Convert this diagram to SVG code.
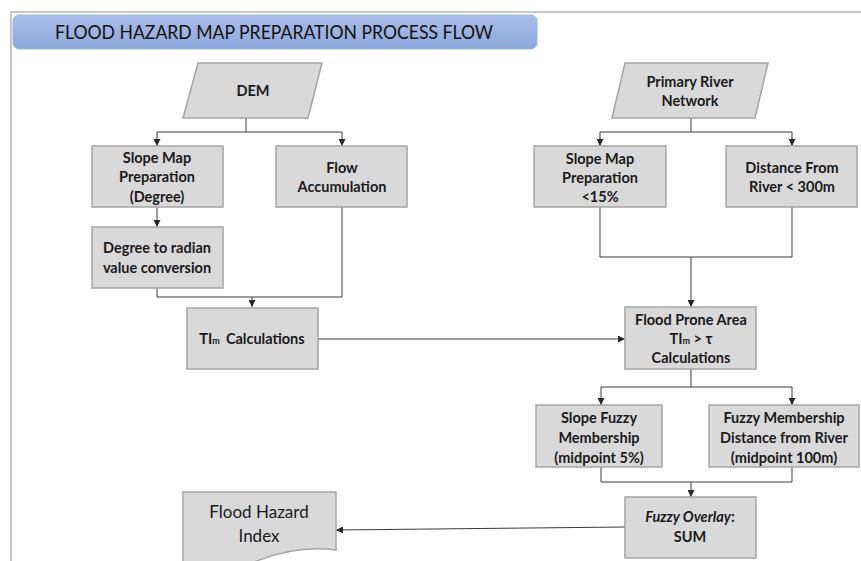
<svg xmlns="http://www.w3.org/2000/svg" width="861" height="561" viewBox="0 0 861 561">
  <defs>
    <linearGradient id="titleFill" x1="0" y1="0" x2="0" y2="1">
      <stop offset="0" stop-color="#aabde9"/>
      <stop offset="1" stop-color="#8ea7dc"/>
    </linearGradient>
    <marker id="arrow" viewBox="0 0 10 10" refX="10" refY="5" markerWidth="7" markerHeight="7" markerUnits="userSpaceOnUse" orient="auto">
      <path d="M0,0 L10,5 L0,10 Z" fill="#262626"/>
    </marker>
  </defs>
  <style>
    .box { fill: #d9d9d9; stroke: #a5a5a5; stroke-width: 1.5; }
    .lbl { font-family: Lato, "Open Sans", "Liberation Sans", sans-serif; font-size: 14.5px; font-weight: bold; fill: #1a1a1a; text-anchor: middle; }
    .big { font-size: 17px; font-weight: normal; }
    .link { fill: none; stroke: #3a3a3a; stroke-width: 1; }
    .frame { fill: none; stroke: #c8c8c8; stroke-width: 2; }
  </style>

  <rect width="861" height="561" fill="#ffffff"/>

  <!-- page frame -->
  <path class="frame" d="M11,561 V12 H861"/>

  <!-- title banner -->
  <g id="title">
    <rect x="13" y="15" width="524" height="34" rx="6" fill="url(#titleFill)" stroke="#9fb3e0" stroke-width="1"/>
    <text x="274" y="39" font-family="Lato, 'Open Sans', 'Liberation Sans', sans-serif" font-size="18.5" fill="#111" text-anchor="middle" textLength="438" lengthAdjust="spacingAndGlyphs">FLOOD HAZARD MAP PREPARATION PROCESS FLOW</text>
  </g>

  <!-- connectors -->
  <g id="connectors">
    <path class="link" d="M246,118 V132 H157 V146" marker-end="url(#arrow)"/>
    <path class="link" d="M246,132 H342 V146" marker-end="url(#arrow)"/>
    <path class="link" d="M157,207 V227" marker-end="url(#arrow)"/>
    <path class="link" d="M157,288 V297 H342 V207"/>
    <path class="link" d="M252,297 V307" marker-end="url(#arrow)"/>

    <path class="link" d="M691,118 V132 H600 V146" marker-end="url(#arrow)"/>
    <path class="link" d="M691,132 H792 V146" marker-end="url(#arrow)"/>
    <path class="link" d="M600,207 V257 H792 V207"/>
    <path class="link" d="M691,257 V307" marker-end="url(#arrow)"/>

    <path class="link" d="M318,339 H625" marker-end="url(#arrow)"/>

    <path class="link" d="M691,369 V387 H601 V405" marker-end="url(#arrow)"/>
    <path class="link" d="M691,387 H792 V405" marker-end="url(#arrow)"/>
    <path class="link" d="M601,467 V482 H792 V467"/>
    <path class="link" d="M691,482 V497" marker-end="url(#arrow)"/>

    <path class="link" d="M625,527 L336,530" marker-end="url(#arrow)"/>
  </g>

  <!-- inputs -->
  <g id="dem">
    <polygon class="box" points="198,63 322,63 308,118 183,118"/>
    <text class="lbl" x="253" y="96">DEM</text>
  </g>
  <g id="river-network">
    <polygon class="box" points="625,63 768,63 755,118 612,118"/>
    <text class="lbl" x="690" y="87">Primary River</text>
    <text class="lbl" x="690" y="106">Network</text>
  </g>

  <!-- left branch -->
  <g id="slope-degree">
    <rect class="box" x="92" y="146" width="131" height="61"/>
    <text class="lbl" x="157" y="163">Slope Map</text>
    <text class="lbl" x="157" y="182">Preparation</text>
    <text class="lbl" x="157" y="202">(Degree)</text>
  </g>
  <g id="flow-accumulation">
    <rect class="box" x="276" y="146" width="131" height="61"/>
    <text class="lbl" x="342" y="173">Flow</text>
    <text class="lbl" x="342" y="192">Accumulation</text>
  </g>
  <g id="radian-conversion">
    <rect class="box" x="92" y="227" width="131" height="61"/>
    <text class="lbl" x="157" y="253">Degree to radian</text>
    <text class="lbl" x="157" y="273">value conversion</text>
  </g>
  <g id="tim-calc">
    <rect class="box" x="187" y="308" width="131" height="61"/>
    <text class="lbl" x="252" y="344">TI<tspan font-size="9">m</tspan><tspan dx="6">Calculations</tspan></text>
  </g>

  <!-- right branch -->
  <g id="slope-15">
    <rect class="box" x="534" y="146" width="132" height="61"/>
    <text class="lbl" x="600" y="164">Slope Map</text>
    <text class="lbl" x="600" y="183">Preparation</text>
    <text class="lbl" x="600" y="202">&lt;15%</text>
  </g>
  <g id="distance-300">
    <rect class="box" x="726" y="146" width="131" height="61"/>
    <text class="lbl" x="792" y="173">Distance From</text>
    <text class="lbl" x="792" y="192">River &lt; 300m</text>
  </g>
  <g id="flood-prone">
    <rect class="box" x="625" y="307" width="131" height="62"/>
    <text class="lbl" x="691" y="325">Flood Prone Area</text>
    <text class="lbl" x="691" y="344">TI<tspan font-size="9">m</tspan> &gt; τ</text>
    <text class="lbl" x="691" y="363">Calculations</text>
  </g>
  <g id="slope-fuzzy">
    <rect class="box" x="536" y="405" width="126" height="62"/>
    <text class="lbl" x="599" y="423">Slope Fuzzy</text>
    <text class="lbl" x="599" y="443">Membership</text>
    <text class="lbl" x="599" y="463">(midpoint 5%)</text>
  </g>
  <g id="distance-fuzzy">
    <rect class="box" x="709" y="405" width="150" height="62"/>
    <text class="lbl" x="784" y="423">Fuzzy Membership</text>
    <text class="lbl" x="784" y="443">Distance from River</text>
    <text class="lbl" x="784" y="463">(midpoint 100m)</text>
  </g>
  <g id="fuzzy-overlay">
    <rect class="box" x="625" y="497" width="131" height="61"/>
    <text class="lbl" x="690" y="522"><tspan font-style="italic">Fuzzy Overlay</tspan>:</text>
    <text class="lbl" x="690" y="542">SUM</text>
  </g>

  <!-- output -->
  <g id="flood-hazard-index">
    <path class="box" d="M183,492 H336 V550 C305,546 275,552 245,566 L183,566 Z"/>
    <text class="lbl big" x="259" y="518">Flood Hazard</text>
    <text class="lbl big" x="259" y="542">Index</text>
  </g>
</svg>
